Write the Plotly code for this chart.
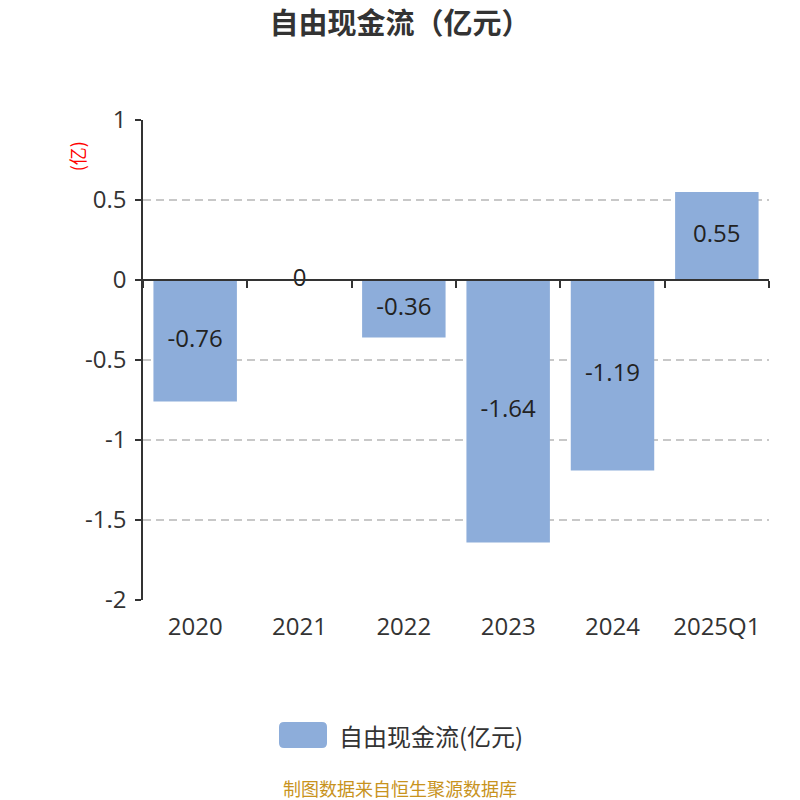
import plotly.graph_objects as go

categories = ["2020", "2021", "2022", "2023", "2024", "2025Q1"]
values = [-0.76, 0, -0.36, -1.64, -1.19, 0.55]
labels = ["-0.76", "0", "-0.36", "-1.64", "-1.19", "0.55"]
y_ticks = [1, 0.5, 0, -0.5, -1, -1.5, -2]
y_tick_text = ["1", "0.5", "0", "-0.5", "-1", "-1.5", "-2"]

series_name = "自由现金流(亿元)"
bar_color = "#8dadda"
font_family = "Open Sans, Noto Sans CJK SC, sans-serif"
cjk = "Noto Sans CJK SC"

fig = go.Figure()

fig.add_trace(go.Bar(
    x=categories,
    y=values,
    name=series_name,
    marker=dict(color=bar_color, line=dict(width=0)),
    showlegend=False,
))

# value labels, centred inside each bar
fig.add_trace(go.Scatter(
    x=categories,
    y=[v / 2 for v in values],
    mode="text",
    text=labels,
    textfont=dict(size=24, color="#222"),
    showlegend=False,
    hoverinfo="skip",
))

# invisible overlay axis drawing the category line at zero
fig.add_trace(go.Scatter(x=categories, y=values, xaxis="x2", mode="none",
                         showlegend=False, hoverinfo="skip"))

n = len(categories)
fig.update_layout(
    width=800,
    height=800,
    paper_bgcolor="white",
    plot_bgcolor="white",
    margin=dict(l=143, r=31, t=120, b=200),
    bargap=0.2,
    font=dict(family=font_family, color="#333"),
    title=dict(text="<b>自由现金流（亿元）</b>", x=0.5, y=1 - 24 / 800, xanchor="center",
               yanchor="middle", font=dict(size=29, color="#333", family=cjk)),
    xaxis=dict(
        type="category",
        range=[-0.5, n - 0.5],
        showline=False,
        ticks="",
        showgrid=False,
        tickfont=dict(size=24, color="#333"),
        ticklabelstandoff=10,
    ),
    xaxis2=dict(
        type="category",
        overlaying="x",
        anchor="free",
        position=2 / 3,
        range=[-0.5, n - 0.5],
        showline=True,
        linecolor="#333",
        linewidth=1.5,
        ticks="outside",
        tickson="boundaries",
        ticklen=7,
        tickcolor="#333",
        tickwidth=1.5,
        showticklabels=False,
        showgrid=False,
    ),
    yaxis=dict(
        range=[-2, 1],
        tickvals=y_ticks,
        ticktext=y_tick_text,
        showline=True,
        linecolor="#333",
        linewidth=1.5,
        ticks="outside",
        ticklen=6,
        tickcolor="#333",
        tickwidth=1.5,
        ticklabelstandoff=4,
        showgrid=True,
        gridcolor="#c8c8c8",
        griddash="8px,5px",
        gridwidth=1.5,
        zeroline=False,
        tickfont=dict(size=24, color="#333"),
    ),
)

# y axis unit label
fig.add_annotation(text="(亿)", xref="paper", yref="paper", x=-0.105, y=0.925,
                   xanchor="center", yanchor="middle",
                   textangle=-90, showarrow=False,
                   font=dict(size=18, color="red", family=cjk))

# legend swatch (rounded) and text
px_w, px_h = 626, 480
def px(x, y):
    return (x - 143) / px_w, (600 - y) / px_h

r = 5
x0, x1, y0, y1 = 279, 327, 722, 748
path = (
    f"M {px(x0 + r, y0)[0]},{px(x0 + r, y0)[1]} "
    f"L {px(x1 - r, y0)[0]},{px(x1 - r, y0)[1]} "
    f"Q {px(x1, y0)[0]},{px(x1, y0)[1]} {px(x1, y0 + r)[0]},{px(x1, y0 + r)[1]} "
    f"L {px(x1, y1 - r)[0]},{px(x1, y1 - r)[1]} "
    f"Q {px(x1, y1)[0]},{px(x1, y1)[1]} {px(x1 - r, y1)[0]},{px(x1 - r, y1)[1]} "
    f"L {px(x0 + r, y1)[0]},{px(x0 + r, y1)[1]} "
    f"Q {px(x0, y1)[0]},{px(x0, y1)[1]} {px(x0, y1 - r)[0]},{px(x0, y1 - r)[1]} "
    f"L {px(x0, y0 + r)[0]},{px(x0, y0 + r)[1]} "
    f"Q {px(x0, y0)[0]},{px(x0, y0)[1]} {px(x0 + r, y0)[0]},{px(x0 + r, y0)[1]} Z"
)
fig.add_shape(type="path", xref="paper", yref="paper", path=path,
              fillcolor=bar_color, line=dict(width=0))
fig.add_annotation(text=series_name, xref="paper", yref="paper",
                   x=px(337, 0)[0], y=px(0, 735)[1],
                   xanchor="left", yanchor="middle", showarrow=False,
                   font=dict(size=24, color="#333", family=cjk))

# source note
fig.add_annotation(text="制图数据来自恒生聚源数据库", xref="paper", yref="paper",
                   x=px(400, 0)[0], y=px(0, 788)[1], xanchor="center", yanchor="middle",
                   showarrow=False,
                   font=dict(size=18, color="#c8931d", family=cjk))

fig.write_html("out.html", config={"displayModeBar": False},
               post_script="document.body.style.margin='0';")
